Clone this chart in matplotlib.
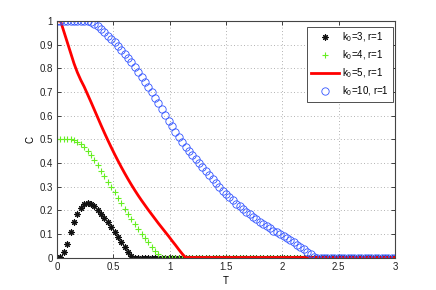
import matplotlib
matplotlib.use("Agg")
import matplotlib.pyplot as plt
import numpy as np

# time grid (step 0.03 from 0 to 3)
T = np.round(np.arange(101) * 0.03, 2)

# k0=3 (black stars), zeros afterwards
c_k3_head = [0.000, 0.004, 0.025, 0.057, 0.106, 0.150, 0.186, 0.211, 0.225, 0.229,
             0.225, 0.216, 0.202, 0.185, 0.167, 0.148, 0.129, 0.109, 0.088, 0.066,
             0.044, 0.023, 0.008, 0.000]
# k0=4 (green plus)
c_k4_head = [0.500, 0.500, 0.500, 0.500, 0.499, 0.495, 0.488, 0.479, 0.467, 0.452,
             0.433, 0.412, 0.390, 0.367, 0.344, 0.321, 0.298, 0.275, 0.252, 0.229,
             0.206, 0.184, 0.162, 0.141, 0.121, 0.101, 0.082, 0.064, 0.046, 0.029,
             0.013, 0.000]
# k0=5 (red line)
c_k5_head = [1.000, 1.000, 0.955, 0.910, 0.865, 0.820, 0.782, 0.750, 0.722, 0.690,
             0.658, 0.625, 0.592, 0.559, 0.527, 0.496, 0.466, 0.437, 0.409, 0.382,
             0.356, 0.331, 0.307, 0.284, 0.262, 0.241, 0.221, 0.201, 0.182, 0.163,
             0.144, 0.126, 0.108, 0.090, 0.071, 0.053, 0.034, 0.016, 0.000]
# k0=10 (blue circles)
c_k10_head = [1.000, 1.000, 1.000, 1.000, 1.000, 1.000, 1.000, 1.000, 0.999, 0.998,
              0.994, 0.987, 0.977, 0.965, 0.952, 0.938, 0.924, 0.909, 0.894, 0.879,
              0.862, 0.845, 0.826, 0.806, 0.785, 0.764, 0.742, 0.720, 0.698, 0.675,
              0.652, 0.629, 0.604, 0.579, 0.555, 0.532, 0.510, 0.489, 0.468, 0.450,
              0.433, 0.418, 0.401, 0.384, 0.366, 0.349, 0.332, 0.315, 0.298, 0.283,
              0.268, 0.254, 0.241, 0.228, 0.216, 0.205, 0.194, 0.183, 0.172, 0.161,
              0.151, 0.141, 0.132, 0.123, 0.114, 0.106, 0.098, 0.090, 0.081, 0.073,
              0.064, 0.055, 0.045, 0.035, 0.025, 0.014, 0.004, 0.000]

def full(head):
    return np.array(head + [0.0] * (len(T) - len(head)))

c_k3 = full(c_k3_head)
c_k4 = full(c_k4_head)
c_k5 = full(c_k5_head)
c_k10 = full(c_k10_head)

labels = ["k$_0$=3, r=1", "k$_0$=4, r=1", "k$_0$=5, r=1", "k$_0$=10, r=1"]
xticks = [0, 0.5, 1, 1.5, 2, 2.5, 3]
xticklabels = ["0", "0.5", "1", "1.5", "2", "2.5", "3"]
yticks = [0, 0.1, 0.2, 0.3, 0.4, 0.5, 0.6, 0.7, 0.8, 0.9, 1]
yticklabels = ["0", "0.1", "0.2", "0.3", "0.4", "0.5", "0.6", "0.7", "0.8", "0.9", "1"]

plt.rcParams['font.family'] = ['Liberation Sans', 'DejaVu Sans']
plt.rcParams['mathtext.fontset'] = 'custom'
plt.rcParams['mathtext.rm'] = 'Liberation Sans'
plt.rcParams['mathtext.it'] = 'Liberation Sans:italic'
plt.rcParams['mathtext.default'] = 'regular'

fig = plt.figure(figsize=(4.36, 2.90), dpi=100)
ax = fig.add_axes([0.131, 0.112, 0.775, 0.816])

ax.plot(T, c_k3, linestyle='none', marker=(8, 2, 0), markersize=4.5, color='#111111',
        markeredgewidth=0.8, label=labels[0])
ax.plot(T, c_k4, linestyle='none', marker='+', markersize=5, color='#66ee22',
        markeredgewidth=0.8, label=labels[1])
ax.plot(T, c_k5, linestyle='-', linewidth=2.0, color='#ff0000', label=labels[2])
ax.plot(T, c_k10, linestyle='none', marker='o', markersize=5.3, markerfacecolor='none',
        markeredgecolor='#3355ff', markeredgewidth=0.6, label=labels[3])

ax.set_xlim(0, 3)
ax.set_ylim(0, 1)
ax.set_xticks(xticks)
ax.set_xticklabels(xticklabels)
ax.set_yticks(yticks)
ax.set_yticklabels(yticklabels)
ax.tick_params(direction='in', top=True, right=True, length=3, width=0.6,
               labelsize=7, pad=3, colors='#222222')
for s in ax.spines.values():
    s.set_linewidth(0.8)
    s.set_color('#444444')
ax.grid(True, linestyle=(0, (1, 3)), color='#999999', linewidth=0.6)
ax.set_xlabel("T", fontsize=7, labelpad=3)
ax.set_ylabel("C", fontsize=7, labelpad=3)

leg = ax.legend(loc='upper right', bbox_to_anchor=(0.994, 0.975), fontsize=7,
                frameon=True, fancybox=False, edgecolor='#333333', framealpha=1,
                borderpad=0.4, labelspacing=0.45, handlelength=2.9,
                handletextpad=0.35, borderaxespad=0.0)
leg.get_frame().set_linewidth(0.6)

fig.savefig("out.png", dpi=100)
